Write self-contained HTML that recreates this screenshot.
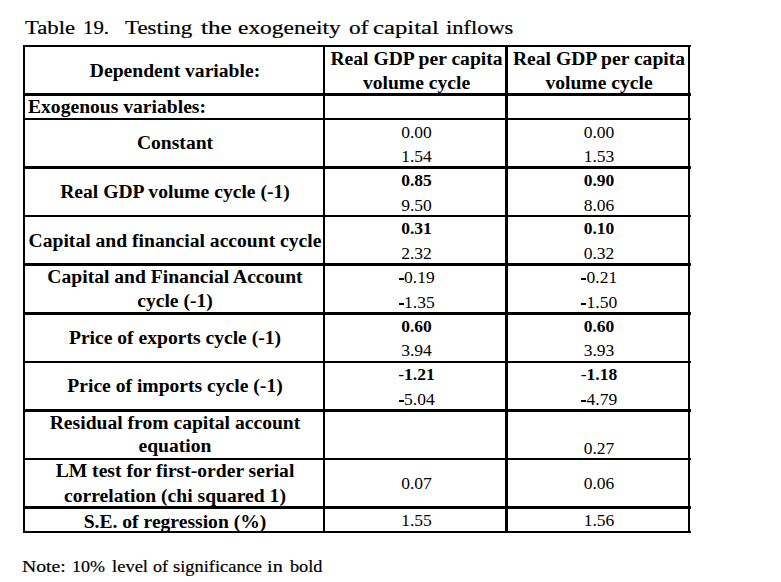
<!DOCTYPE html>
<html><head><meta charset="utf-8"><style>
html,body{margin:0;padding:0;background:#fff;width:781px;height:582px;overflow:hidden;position:relative}
.l{position:absolute;background:#000}
.t{position:absolute;white-space:nowrap;line-height:30px;font-family:"Liberation Serif",serif;color:#000}
b{font-weight:bold}
.m{display:inline-block;width:5.83px;height:0;position:relative}
.m i{position:absolute;left:0.6px;width:4.8px;height:2px;bottom:3px;background:#000}
</style></head><body>
<div class="l" style="left:23px;top:45px;width:668px;height:2px"></div>
<div class="l" style="left:23px;top:93px;width:668px;height:3px"></div>
<div class="l" style="left:23px;top:118px;width:668px;height:2px"></div>
<div class="l" style="left:23px;top:166px;width:668px;height:3px"></div>
<div class="l" style="left:23px;top:215px;width:668px;height:2px"></div>
<div class="l" style="left:23px;top:263px;width:668px;height:3px"></div>
<div class="l" style="left:23px;top:312px;width:668px;height:3px"></div>
<div class="l" style="left:23px;top:361px;width:668px;height:2px"></div>
<div class="l" style="left:23px;top:409px;width:668px;height:3px"></div>
<div class="l" style="left:23px;top:458px;width:668px;height:2px"></div>
<div class="l" style="left:23px;top:506px;width:668px;height:3px"></div>
<div class="l" style="left:23px;top:531px;width:668px;height:2px"></div>
<div class="l" style="left:23px;top:45px;width:2px;height:488px"></div>
<div class="l" style="left:323px;top:45px;width:2px;height:488px"></div>
<div class="l" style="left:505px;top:45px;width:3px;height:488px"></div>
<div class="l" style="left:688px;top:45px;width:2px;height:488px"></div>
<div class="t" style="left:-25.00px;width:400px;text-align:center;top:55.88px;font-size:19.6px;font-weight:bold;">Dependent variable:</div>
<div class="t" style="left:216.50px;width:400px;text-align:center;top:44.38px;font-size:19.6px;font-weight:bold;">Real GDP per capita</div>
<div class="t" style="left:216.50px;width:400px;text-align:center;top:68.39px;font-size:19.6px;font-weight:bold;">volume cycle</div>
<div class="t" style="left:399.00px;width:400px;text-align:center;top:44.38px;font-size:19.6px;font-weight:bold;">Real GDP per capita</div>
<div class="t" style="left:399.00px;width:400px;text-align:center;top:68.39px;font-size:19.6px;font-weight:bold;">volume cycle</div>
<div class="t" style="left:28.00px;top:92.39px;font-size:19.6px;font-weight:bold;">Exogenous variables:</div>
<div class="t" style="left:-25.00px;width:400px;text-align:center;top:128.38px;font-size:19.6px;font-weight:bold;">Constant</div>
<div class="t" style="left:216.50px;width:400px;text-align:center;top:116.59px;font-size:17.5px;font-weight:normal;">0.00</div>
<div class="t" style="left:216.50px;width:400px;text-align:center;top:140.59px;font-size:17.5px;font-weight:normal;">1.54</div>
<div class="t" style="left:399.00px;width:400px;text-align:center;top:116.59px;font-size:17.5px;font-weight:normal;">0.00</div>
<div class="t" style="left:399.00px;width:400px;text-align:center;top:140.59px;font-size:17.5px;font-weight:normal;">1.53</div>
<div class="t" style="left:-25.00px;width:400px;text-align:center;top:176.88px;font-size:19.6px;font-weight:bold;">Real GDP volume cycle (-1)</div>
<div class="t" style="left:216.50px;width:400px;text-align:center;top:164.79px;font-size:17.5px;font-weight:bold;">0.85</div>
<div class="t" style="left:216.50px;width:400px;text-align:center;top:189.59px;font-size:17.5px;font-weight:normal;">9.50</div>
<div class="t" style="left:399.00px;width:400px;text-align:center;top:164.79px;font-size:17.5px;font-weight:bold;">0.90</div>
<div class="t" style="left:399.00px;width:400px;text-align:center;top:189.59px;font-size:17.5px;font-weight:normal;">8.06</div>
<div class="t" style="left:-25.00px;width:400px;text-align:center;top:226.08px;font-size:19.6px;font-weight:bold;">Capital and financial account cycle</div>
<div class="t" style="left:216.50px;width:400px;text-align:center;top:213.09px;font-size:17.5px;font-weight:bold;">0.31</div>
<div class="t" style="left:216.50px;width:400px;text-align:center;top:237.89px;font-size:17.5px;font-weight:normal;">2.32</div>
<div class="t" style="left:399.00px;width:400px;text-align:center;top:213.09px;font-size:17.5px;font-weight:bold;">0.10</div>
<div class="t" style="left:399.00px;width:400px;text-align:center;top:237.89px;font-size:17.5px;font-weight:normal;">0.32</div>
<div class="t" style="left:-25.00px;width:400px;text-align:center;top:261.78px;font-size:19.6px;font-weight:bold;">Capital and Financial Account</div>
<div class="t" style="left:-25.00px;width:400px;text-align:center;top:285.58px;font-size:19.6px;font-weight:bold;">cycle (-1)</div>
<div class="t" style="left:216.50px;width:400px;text-align:center;top:262.09px;font-size:17.5px;font-weight:normal;"><span class="m"><i></i></span>0.19</div>
<div class="t" style="left:216.50px;width:400px;text-align:center;top:287.09px;font-size:17.5px;font-weight:normal;"><span class="m"><i></i></span>1.35</div>
<div class="t" style="left:399.00px;width:400px;text-align:center;top:262.09px;font-size:17.5px;font-weight:normal;"><span class="m"><i></i></span>0.21</div>
<div class="t" style="left:399.00px;width:400px;text-align:center;top:287.09px;font-size:17.5px;font-weight:normal;"><span class="m"><i></i></span>1.50</div>
<div class="t" style="left:-25.00px;width:400px;text-align:center;top:322.88px;font-size:19.6px;font-weight:bold;">Price of exports cycle (-1)</div>
<div class="t" style="left:216.50px;width:400px;text-align:center;top:311.09px;font-size:17.5px;font-weight:bold;">0.60</div>
<div class="t" style="left:216.50px;width:400px;text-align:center;top:335.09px;font-size:17.5px;font-weight:normal;">3.94</div>
<div class="t" style="left:399.00px;width:400px;text-align:center;top:311.09px;font-size:17.5px;font-weight:bold;">0.60</div>
<div class="t" style="left:399.00px;width:400px;text-align:center;top:335.09px;font-size:17.5px;font-weight:normal;">3.93</div>
<div class="t" style="left:-25.00px;width:400px;text-align:center;top:370.88px;font-size:19.6px;font-weight:bold;">Price of imports cycle (-1)</div>
<div class="t" style="left:216.50px;width:400px;text-align:center;top:359.09px;font-size:17.5px;font-weight:normal;">-<b>1.21</b></div>
<div class="t" style="left:216.50px;width:400px;text-align:center;top:384.09px;font-size:17.5px;font-weight:normal;"><span class="m"><i></i></span>5.04</div>
<div class="t" style="left:399.00px;width:400px;text-align:center;top:359.09px;font-size:17.5px;font-weight:normal;">-<b>1.18</b></div>
<div class="t" style="left:399.00px;width:400px;text-align:center;top:384.09px;font-size:17.5px;font-weight:normal;"><span class="m"><i></i></span>4.79</div>
<div class="t" style="left:-25.00px;width:400px;text-align:center;top:407.78px;font-size:19.6px;font-weight:bold;">Residual from capital account</div>
<div class="t" style="left:-25.00px;width:400px;text-align:center;top:431.38px;font-size:19.6px;font-weight:bold;">equation</div>
<div class="t" style="left:399.00px;width:400px;text-align:center;top:433.09px;font-size:17.5px;font-weight:normal;">0.27</div>
<div class="t" style="left:-25.00px;width:400px;text-align:center;top:456.28px;font-size:19.6px;font-weight:bold;">LM test for first-order serial</div>
<div class="t" style="left:-25.00px;width:400px;text-align:center;top:481.38px;font-size:19.6px;font-weight:bold;">correlation (chi squared 1)</div>
<div class="t" style="left:216.50px;width:400px;text-align:center;top:468.09px;font-size:17.5px;font-weight:normal;">0.07</div>
<div class="t" style="left:399.00px;width:400px;text-align:center;top:468.09px;font-size:17.5px;font-weight:normal;">0.06</div>
<div class="t" style="left:-25.00px;width:400px;text-align:center;top:506.59px;font-size:19.6px;font-weight:bold;">S.E. of regression (%)</div>
<div class="t" style="left:216.50px;width:400px;text-align:center;top:505.09px;font-size:17.5px;font-weight:normal;">1.55</div>
<div class="t" style="left:399.00px;width:400px;text-align:center;top:505.09px;font-size:17.5px;font-weight:normal;">1.56</div>
<div class="t" style="left:25.40px;top:13.09px;font-size:19px;transform:scaleX(1.1952);transform-origin:0 0;-webkit-text-stroke:0.2px #000;">Table</div>
<div class="t" style="left:83.11px;top:13.09px;font-size:19px;transform:scaleX(1.0952);transform-origin:0 0;-webkit-text-stroke:0.2px #000;">19.</div>
<div class="t" style="left:124.60px;top:13.09px;font-size:19px;transform:scaleX(1.2071);transform-origin:0 0;-webkit-text-stroke:0.2px #000;">Testing</div>
<div class="t" style="left:200.90px;top:13.09px;font-size:19px;transform:scaleX(1.3261);transform-origin:0 0;-webkit-text-stroke:0.2px #000;">the</div>
<div class="t" style="left:238.27px;top:13.09px;font-size:19px;transform:scaleX(1.2329);transform-origin:0 0;-webkit-text-stroke:0.2px #000;">exogeneity</div>
<div class="t" style="left:348.77px;top:13.09px;font-size:19px;transform:scaleX(1.2267);transform-origin:0 0;-webkit-text-stroke:0.2px #000;">of</div>
<div class="t" style="left:373.30px;top:13.09px;font-size:19px;transform:scaleX(1.3000);transform-origin:0 0;-webkit-text-stroke:0.2px #000;">capital</div>
<div class="t" style="left:446.02px;top:13.09px;font-size:19px;transform:scaleX(1.1818);transform-origin:0 0;-webkit-text-stroke:0.2px #000;">inflows</div>
<div class="t" style="left:22.44px;top:551.76px;font-size:17px;transform:scaleX(1.1600);transform-origin:0 0;-webkit-text-stroke:0.2px #000;">Note:</div>
<div class="t" style="left:72.28px;top:551.76px;font-size:17px;transform:scaleX(1.0586);transform-origin:0 0;-webkit-text-stroke:0.2px #000;">10%</div>
<div class="t" style="left:112.01px;top:551.76px;font-size:17px;transform:scaleX(1.0903);transform-origin:0 0;-webkit-text-stroke:0.2px #000;">level</div>
<div class="t" style="left:152.74px;top:551.76px;font-size:17px;transform:scaleX(1.0615);transform-origin:0 0;-webkit-text-stroke:0.2px #000;">of</div>
<div class="t" style="left:172.62px;top:551.76px;font-size:17px;transform:scaleX(1.0840);transform-origin:0 0;-webkit-text-stroke:0.2px #000;">significance</div>
<div class="t" style="left:266.71px;top:551.76px;font-size:17px;transform:scaleX(1.1917);transform-origin:0 0;-webkit-text-stroke:0.2px #000;">in</div>
<div class="t" style="left:289.90px;top:551.76px;font-size:17px;transform:scaleX(1.0733);transform-origin:0 0;-webkit-text-stroke:0.2px #000;">bold</div>
</body></html>
